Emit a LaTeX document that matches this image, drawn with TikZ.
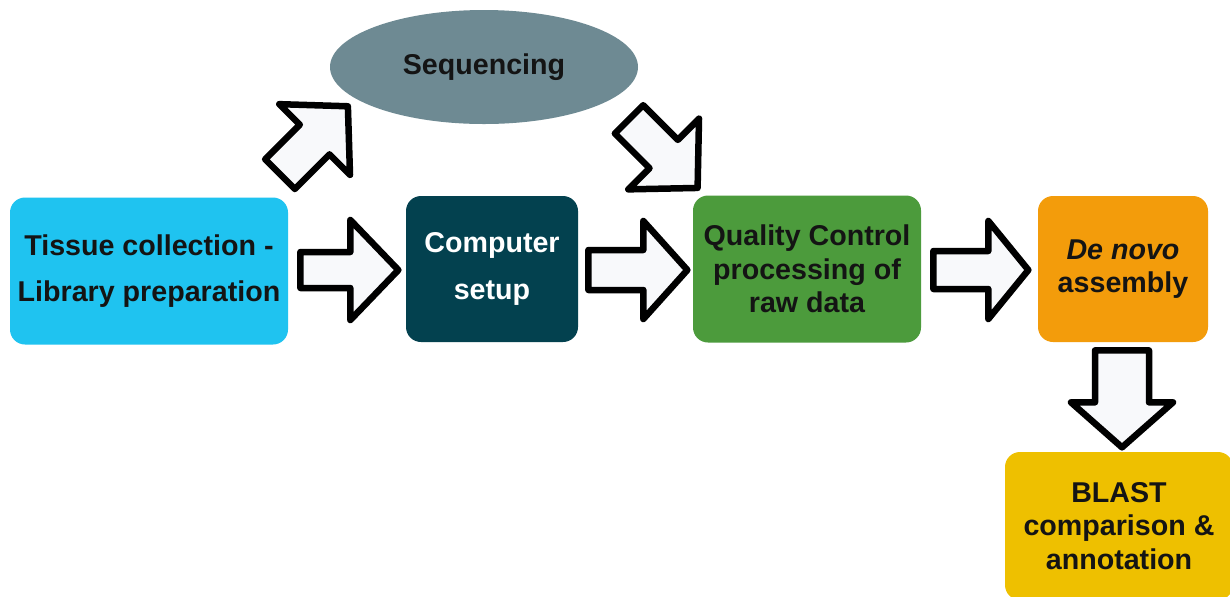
\documentclass[tikz,border=0pt]{standalone}
\usepackage{fontspec}
\setmainfont{Liberation Sans}
\usetikzlibrary{calc,shapes.geometric}
\definecolor{cyanbox}{HTML}{1FC3F0}
\definecolor{tealbox}{HTML}{03414F}
\definecolor{greenbox}{HTML}{4C9B3C}
\definecolor{orangebox}{HTML}{F39C0B}
\definecolor{yellowbox}{HTML}{EEC000}
\definecolor{ellgray}{HTML}{6E8A93}
\definecolor{txt}{HTML}{141414}
\definecolor{arrowfill}{HTML}{F8F9FB}
\tikzset{
  box/.style={rectangle, rounded corners=0.3cm, draw=none, align=center, text=txt,
    font=\fontsize{16.3}{19.2}\selectfont\bfseries, inner sep=0pt},
  widebox/.style={box, font=\fontsize{16.3}{26.5}\selectfont\bfseries},
  arrowline/.style={draw=black, line width=3.7pt, line join=round, fill=arrowfill},
  pics/barrow/.style args={#1/#2/#3/#4}{code={
    \path[arrowline] (0,-#2) -- (#1-#4,-#2) -- (#1-#4,-#3) -- (#1,0) -- (#1-#4,#3) -- (#1-#4,#2) -- (0,#2) -- cycle;
  }}
}
\begin{document}
\begin{tikzpicture}[x=0.02cm, y=-0.02cm]
\clip (0,0) rectangle (1230,596);
\fill[white] (0,0) rectangle (1230,596);

\node[widebox, fill=cyanbox, minimum width=278*0.02cm, minimum height=147*0.02cm] (tissue) at (149,271) {Tissue collection -\\Library preparation};
\node[widebox, fill=tealbox, text=white, minimum width=172*0.02cm, minimum height=146*0.02cm] (computer) at (492,269) {Computer\\setup};
\node[box, fill=greenbox, minimum width=228*0.02cm, minimum height=147*0.02cm] (qc) at (807,269) {Quality Control\\processing of\\raw data};
\node[box, fill=orangebox, minimum width=170*0.02cm, minimum height=146*0.02cm] (denovo) at (1123,269) {\textit{De novo}\\assembly};
\node[box, fill=yellowbox, minimum width=228*0.02cm, minimum height=148*0.02cm] (blast) at (1119,526) {BLAST\\comparison \&\\annotation};
\node[ellipse, fill=ellgray, draw=none, minimum width=308*0.02cm, minimum height=114*0.02cm, text=txt,
      font=\fontsize{16.3}{19.2}\selectfont\bfseries] (seq) at (484,67) {Sequencing};

% block arrows between the nodes
\coordinate (a1) at ($(tissue.east)+(12,-1)$);
\coordinate (a2) at ($(computer.east)+(10,1)$);
\coordinate (a3) at ($(qc.east)+(12,1)$);
\coordinate (a4) at ($(denovo.south)+(-1,8)$);
\coordinate (a5) at ($(tissue.north)+(131,-23)$);
\coordinate (a6) at ($(seq.south)+(145,-5)$);

\pic at (a1) {barrow={98/18/50/48}};
\pic at (a2) {barrow={99/20/49/44}};
\pic at (a3) {barrow={95/19/49/40}};
\pic[rotate=-90] at (a4) {barrow={97/27/51/45}};
\pic[rotate=45] at (a5) {barrow={96/21/50/47}};
\pic[rotate=-45] at (a6) {barrow={97/20/50/48}};
\end{tikzpicture}
\end{document}
